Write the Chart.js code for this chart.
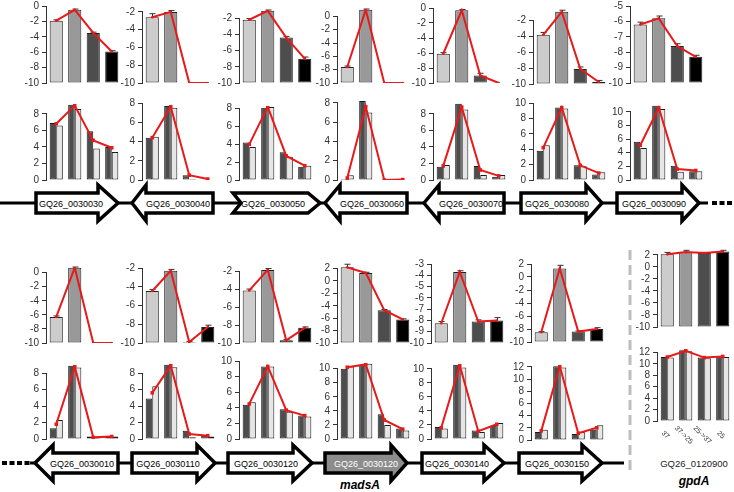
<!DOCTYPE html>
<html>
<head>
<meta charset="utf-8">
<script src="https://cdn.jsdelivr.net/npm/chart.js@4.4.1/dist/chart.umd.min.js"></script>
<style>
  body { margin: 0; background: #fff; }
  #fig { position: relative; width: 734px; height: 492px; overflow: hidden; }
  #fig canvas { position: absolute; }
  #fig svg { position: absolute; left: 0; top: 0; }
</style>
</head>
<body>
<div id="fig"><svg id="genes" width="734" height="492"></svg></div>
<script>
// conditions (temperature shifts)
const conditions = ["37", "37->25", "25->37", "25"];

const geneIds = [
  "GQ26_0030030", "GQ26_0030040", "GQ26_0030050", "GQ26_0030060", "GQ26_0030070", "GQ26_0030080", "GQ26_0030090",
  "GQ26_0030010", "GQ26_0030110", "GQ26_0030120", "GQ26_0030120", "GQ26_0030140", "GQ26_0030150", "GQ26_0120900"
];

// upper panels: relative expression (log scale, bars from -10)
const relExpr = [
  [-1.9, -0.5, -3.5, -5.9],
  [-2.6, -2.0, -10, -10],
  [-2.2, -1.1, -4.4, -7.0],
  [-7.6, 1.0, -10, -10],
  [-6.1, -0.3, -9.0, -10],
  [-3.8, -0.9, -8.1, -9.75],
  [-6.2, -5.8, -7.6, -8.3],
  [-6.3, 0.7, -10, -10],
  [-4.45, -2.3, -9.9, -8.3],
  [-4.1, -1.8, -9.7, -8.3],
  [2.2, 1.3, -4.7, -6.2],
  [-8.25, -3.7, -8.1, -8.0],
  [-8.5, 1.3, -8.4, -8.0],
  [2.1, 2.45, 2.3, 2.55]
];
const relErr = [
  [0.1, 0.1, 0.1, 0.1],
  [0.4, 0.15, 0, 0],
  [0.15, 0.1, 0.15, 0.2],
  [0.15, 0.1, 0, 0],
  [0.15, 0.1, 0.3, 0],
  [0.3, 0.2, 0.25, 0.2],
  [0.15, 0.15, 0.15, 0.1],
  [0.15, 0.1, 0, 0],
  [0.15, 0.15, 0.05, 0.2],
  [0.15, 0.15, 0.1, 0.1],
  [0.5, 0.1, 0.1, 0.1],
  [0.15, 0.1, 0.15, 0.25],
  [0.1, 0.5, 0.1, 0.2],
  [0.3, 0.3, 0.1, 0.2]
];
const upperMax = [0, -1.9, -1.0, 1.1, 0, -0.8, -5, 0.8, -2, -1.7, 2.9, -3, 2, 2.8];
const upperStep = [2, 2, 2, 2, 2, 2, 1, 2, 2, 2, 2, 1, 2, 2];

// lower panels: two replicates and their mean
const darkBars = [
  [6.9, 9.1, 5.9, 4.0],
  [4.4, 7.7, 0.5, 0.05],
  [4.2, 8.1, 3.1, 1.5],
  [0.1, 8.2, 0, 0],
  [1.6, 9.2, 1.7, 0.4],
  [3.8, 9.4, 1.9, 0.7],
  [5.6, 10.9, 2.1, 1.3],
  [1.3, 8.9, 0.3, 0.3],
  [4.9, 9.0, 1.0, 0.4],
  [4.4, 9.3, 3.8, 3.0],
  [10.0, 10.6, 3.5, 1.5],
  [1.7, 10.6, 1.2, 1.9],
  [1.3, 12.1, 1.0, 1.7],
  [11.2, 12.4, 11.1, 11.3]
];
const lightBars = [
  [6.6, 8.6, 3.8, 3.4],
  [4.5, 7.5, 0.1, 0.05],
  [3.7, 8.2, 2.6, 1.6],
  [0.5, 7.0, 0, 0],
  [1.8, 8.5, 0.6, 0.6],
  [4.5, 9.3, 1.8, 1.0],
  [4.7, 10.4, 1.2, 1.3],
  [2.3, 8.7, 0.2, 0.3],
  [6.4, 8.7, 0.2, 0.3],
  [4.7, 9.3, 3.5, 2.9],
  [10.3, 10.7, 2.0, 1.2],
  [1.5, 10.2, 1.0, 2.3],
  [1.7, 11.9, 1.3, 2.4],
  [11.1, 12.2, 11.0, 11.2]
];
const meanLine = [
  [6.8, 9.0, 4.8, 3.9],
  [4.4, 7.6, 0.5, 0.1],
  [4.0, 8.2, 2.7, 1.6],
  [0.2, 7.6, 0, 0.05],
  [1.7, 8.8, 1.2, 0.5],
  [4.2, 9.4, 1.9, 0.9],
  [5.1, 10.6, 1.6, 1.4],
  [1.8, 8.8, 0.2, 0.3],
  [5.6, 8.9, 0.6, 0.4],
  [4.5, 9.3, 3.7, 3.0],
  [10.2, 10.6, 2.7, 1.4],
  [1.6, 10.5, 1.1, 2.1],
  [1.5, 12.1, 1.1, 2.0],
  [11.2, 12.3, 11.1, 11.3]
];
const lowerMax = [9.2, 8, 8.3, 8.3, 9.3, 10, 11, 9.0, 9.1, 10, 10.8, 10.7, 12.3, 12.6];

// layout (pixels): y axis x position, plot top (at max) and bottom (at min)
const colX = [
  [47, 143, 240, 338, 434, 534, 631],
  [47, 143, 240, 338, 432, 532, 658]
];
const upperPx = [
  [6, 83], [11.1, 83], [10.2, 83], [8.6, 83], [8, 83], [10.5, 83], [6, 83],
  [267.4, 343], [268, 343], [269.3, 343], [263.4, 343], [264, 343], [264, 342], [250.2, 327]
];
const lowerPx = [
  [104.1, 180], [103, 180], [106.3, 180], [100.1, 180], [103.3, 180], [103, 180], [105.2, 180],
  [364.8, 439], [363.9, 439], [361, 438.5], [363.4, 439], [364.1, 439], [364.9, 440], [348.9, 421]
];
const PLOT_W = 74;

const FONT = '"Liberation Sans", Arial, sans-serif';
const RED = "#e81919";
const INK = "#333";
const fig = document.getElementById("fig");

// R-style axis line running from first to last tick
const rAxis = {
  id: "rAxis",
  afterDraw(chart) {
    const s = chart.scales.y, t = s.ticks, ctx = chart.ctx;
    const x = Math.round(chart.chartArea.left) - 0.5;
    ctx.save();
    ctx.strokeStyle = INK;
    ctx.lineWidth = 1;
    ctx.beginPath();
    ctx.moveTo(x, s.getPixelForValue(t[0].value));
    ctx.lineTo(x, s.getPixelForValue(t[t.length - 1].value));
    ctx.stroke();
    ctx.restore();
  }
};

function errBars(errs) {
  return {
    id: "errBars",
    afterDatasetDraw(chart, args) {
      if (args.index !== 0) return;
      const ctx = chart.ctx, ys = chart.scales.y, vals = chart.data.datasets[0].data;
      ctx.save();
      ctx.strokeStyle = INK;
      ctx.lineWidth = 1;
      args.meta.data.forEach((bar, j) => {
        if (!errs[j]) return;
        const x = Math.round(bar.x) + 0.5;
        const y1 = ys.getPixelForValue(vals[j] + errs[j]);
        ctx.beginPath();
        ctx.moveTo(x, bar.y);
        ctx.lineTo(x, y1);
        ctx.moveTo(x - 3, y1);
        ctx.lineTo(x + 3, y1);
        ctx.stroke();
      });
      ctx.restore();
    }
  };
}

const condLabels = {
  id: "condLabels",
  afterDraw(chart) {
    const ctx = chart.ctx, xs = chart.scales.x, b = chart.chartArea.bottom;
    ctx.save();
    ctx.fillStyle = INK;
    ctx.font = "7px " + FONT;
    ctx.textAlign = "center";
    ctx.textBaseline = "middle";
    conditions.forEach((t, j) => {
      ctx.save();
      ctx.translate(xs.getPixelForValue(j) - 2, b + 14);
      ctx.rotate(Math.PI / 4);
      ctx.fillText(t, 0, 0);
      ctx.restore();
    });
    ctx.restore();
  }
};

function newCanvas(px, padBottom) {
  const c = document.createElement("canvas");
  c.width = 28 + PLOT_W + 2;
  c.height = Math.round(px[1] - px[0]) + 10 + padBottom;
  fig.appendChild(c);
  return c;
}

// size the canvas so the plot area matches the target box, then move it there
function place(chart, c, x, px) {
  let ca = chart.chartArea;
  const dw = PLOT_W - (ca.right - ca.left);
  const dh = (px[1] - px[0]) - (ca.bottom - ca.top);
  if (Math.abs(dw) > 0.3 || Math.abs(dh) > 0.3) {
    chart.resize(Math.round(c.width + dw), Math.round(c.height + dh));
    ca = chart.chartArea;
  }
  c.style.left = Math.round(x - ca.left) + "px";
  c.style.top = Math.round(px[0] - ca.top) + "px";
}

function options(min, max, step, padBottom) {
  return {
    responsive: false,
    maintainAspectRatio: false,
    animation: false,
    devicePixelRatio: 1,
    layout: { padding: { top: 10, bottom: padBottom, left: 0, right: 2 } },
    plugins: { legend: { display: false }, tooltip: { enabled: false } },
    scales: {
      x: { display: false },
      y: {
        min: min,
        max: max,
        afterFit: s => { s.width = 28; },
        // every step from min up to the last one below max, like R's pretty axis
        afterBuildTicks: s => {
          const t = [];
          for (let k = 0; min + k * step <= max + 1e-9; k++) t.push({ value: Math.round((min + k * step) * 100) / 100 });
          s.ticks = t;
        },
        border: { display: false },
        grid: { drawOnChartArea: false, color: INK, tickLength: 5 },
        ticks: {
          autoSkip: false,
          color: INK, padding: 3, font: { family: FONT, size: 10 }
        }
      }
    }
  };
}

geneIds.forEach((id, i) => {
  const row = i < 7 ? 0 : 1;
  const x = colX[row][i % 7];

  const cu = newCanvas(upperPx[i], 10);
  const up = new Chart(cu, {
    type: "bar",
    data: {
      labels: conditions,
      datasets: [
        {
          data: relExpr[i],
          base: -10,
          backgroundColor: ["#cccccc", "#999999", "#4d4d4d", "#000000"],
          borderColor: "#222",
          borderWidth: 1,
          borderSkipped: false,
          barPercentage: 0.71,
          categoryPercentage: 1,
          order: 1
        },
        {
          type: "line",
          data: relExpr[i],
          borderColor: RED,
          borderWidth: 2,
          pointRadius: 1.3,
          pointBackgroundColor: RED,
          pointBorderWidth: 0,
          order: 0
        }
      ]
    },
    options: options(-10, upperMax[i], upperStep[i], 10),
    plugins: [rAxis, errBars(relErr[i])]
  });
  place(up, cu, x, upperPx[i]);

  const last = i === geneIds.length - 1;
  const padB = last ? 34 : 10;
  const cl = newCanvas(lowerPx[i], padB);
  const lo = new Chart(cl, {
    type: "bar",
    data: {
      labels: conditions,
      datasets: [
        { data: darkBars[i], backgroundColor: "#4d4d4d", borderColor: "#1a1a1a", borderWidth: 1, borderSkipped: false, barPercentage: 1, categoryPercentage: 0.71, order: 1 },
        { data: lightBars[i], backgroundColor: "#e6e6e6", borderColor: "#1a1a1a", borderWidth: 1, borderSkipped: false, barPercentage: 1, categoryPercentage: 0.71, order: 1 },
        {
          type: "line",
          data: meanLine[i],
          borderColor: RED,
          borderWidth: 2,
          pointStyle: "rect",
          pointRadius: 2.5,
          pointBackgroundColor: RED,
          pointBorderWidth: 0,
          order: 0
        }
      ]
    },
    options: options(0, lowerMax[i], 2, padB),
    plugins: last ? [rAxis, condLabels] : [rAxis]
  });
  place(lo, cl, x, lowerPx[i]);
});

// gene map arrows
const arrows = [
  { d: "r", a: 36, h: 98, t: 118, y: 203, tx: 71 },
  { d: "l", a: 213, h: 146, t: 132, y: 203, tx: 178 },
  { d: "c", a: 233, h: 308, t: 320, y: 203, tx: 273 },
  { d: "l", a: 407, h: 340, t: 325, y: 203, tx: 372 },
  { d: "l", a: 504, h: 439, t: 424, y: 203, tx: 471 },
  { d: "r", a: 521, h: 586, t: 602, y: 203, tx: 557 },
  { d: "r", a: 617, h: 682, t: 699, y: 203, tx: 654 },
  { d: "l", a: 118, h: 53, t: 35, y: 463, tx: 82 },
  { d: "r", a: 132, h: 197, t: 215, y: 463, tx: 168 },
  { d: "r", a: 228, h: 293, t: 312, y: 463, tx: 266 },
  { d: "r", a: 325, h: 391, t: 407, y: 463, tx: 366, fill: "#8c8c8c", ink: "#fff" },
  { d: "r", a: 422, h: 484, t: 504, y: 463, tx: 457 },
  { d: "r", a: 519, h: 582, t: 602, y: 463, tx: 557 }
];

function arrowPoints(ar) {
  const y = ar.y, b = 10, hd = 18;
  let p;
  if (ar.d === "r") {
    p = [[ar.a, y - b], [ar.h, y - b], [ar.h, y - hd], [ar.t, y], [ar.h, y + hd], [ar.h, y + b], [ar.a, y + b]];
  } else if (ar.d === "l") {
    p = [[ar.t, y], [ar.h, y - hd], [ar.h, y - b], [ar.a, y - b], [ar.a, y + b], [ar.h, y + b], [ar.h, y + hd]];
  } else {
    p = [[ar.a, y - b], [ar.h, y - b], [ar.t, y], [ar.h, y + b], [ar.a, y + b], [ar.a + 8, y]];
  }
  return p.map(q => q.join(",")).join(" ");
}

let svg = "";
svg += '<line x1="0" y1="203" x2="708" y2="203" stroke="#000" stroke-width="3"/>';
svg += '<line x1="712" y1="203" x2="732" y2="203" stroke="#000" stroke-width="4" stroke-dasharray="5 2.5"/>';
svg += '<line x1="2" y1="463" x2="30" y2="463" stroke="#000" stroke-width="4" stroke-dasharray="5 2.5"/>';
svg += '<line x1="30" y1="463" x2="624" y2="463" stroke="#000" stroke-width="3"/>';
svg += '<line x1="630" y1="250" x2="630" y2="472" stroke="#bdbdbd" stroke-width="3" stroke-dasharray="10 5"/>';
arrows.forEach((ar, k) => {
  svg += '<polygon points="' + arrowPoints(ar) + '" fill="' + (ar.fill || "#fff") +
    '" stroke="#000" stroke-width="3.5" stroke-linejoin="miter"/>';
  svg += '<text x="' + ar.tx + '" y="' + (ar.y + 0.5) + '" text-anchor="middle" dominant-baseline="central" ' +
    'font-family=\'' + FONT + '\' font-size="9" fill="' + (ar.ink || "#000") + '">' + geneIds[k] + '</text>';
});
svg += '<text x="360" y="485" text-anchor="middle" dominant-baseline="central" font-family=\'' + FONT +
  '\' font-size="12" font-weight="bold" font-style="italic" fill="#000">madsA</text>';
svg += '<text x="694" y="463" text-anchor="middle" dominant-baseline="central" font-family=\'' + FONT +
  '\' font-size="9.5" fill="#222">' + geneIds[13] + '</text>';
svg += '<text x="694" y="481" text-anchor="middle" dominant-baseline="central" font-family=\'' + FONT +
  '\' font-size="12" font-weight="bold" font-style="italic" fill="#000">gpdA</text>';
document.getElementById("genes").innerHTML = svg;
</script>
</body>
</html>
